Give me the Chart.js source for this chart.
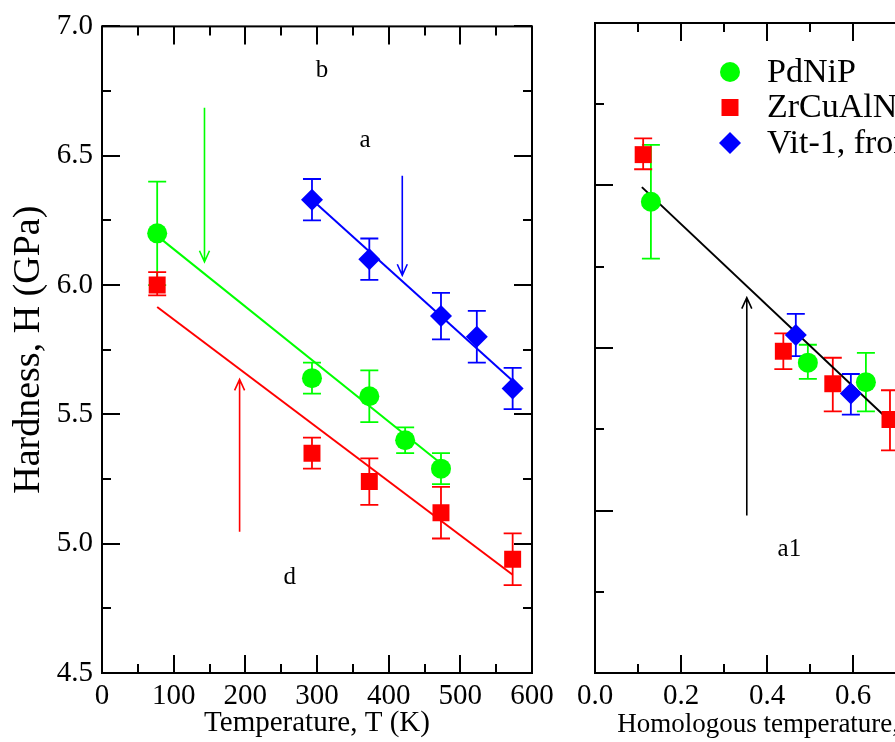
<!DOCTYPE html>
<html>
<head>
<meta charset="utf-8">
<title>Hardness vs temperature</title>
<script src="https://cdn.jsdelivr.net/npm/chart.js@4.4.0/dist/chart.umd.min.js"></script>
<style>
  html, body { margin: 0; padding: 0; background: #fff; overflow: hidden; }
  #wrap { position: relative; width: 895px; height: 742px; overflow: hidden; background: #fff; }
  #left { position: absolute; left: 0; top: 0; }
  #right { position: absolute; left: 560px; top: 0; }
</style>
</head>
<body>
<div id="wrap">
  <canvas id="left" width="560" height="742"></canvas>
  <canvas id="right" width="560" height="742"></canvas>
</div>
<script>
// ---- left panel : hardness vs temperature (K) ----
const pdnipT  = [77, 293, 373, 423, 473];
const pdnipH  = [6.20, 5.64, 5.57, 5.40, 5.29];
const pdnipLo = [6.00, 5.58, 5.47, 5.35, 5.23];
const pdnipHi = [6.40, 5.70, 5.67, 5.45, 5.35];

const zrT  = [77, 293, 373, 473, 573];
const zrH  = [6.00, 5.35, 5.24, 5.12, 4.94];
const zrLo = [5.96, 5.29, 5.15, 5.02, 4.84];
const zrHi = [6.05, 5.41, 5.33, 5.22, 5.04];

const vitT  = [293, 373, 473, 523, 573];
const vitH  = [6.33, 6.10, 5.88, 5.80, 5.60];
const vitLo = [6.25, 6.02, 5.79, 5.70, 5.52];
const vitHi = [6.41, 6.18, 5.97, 5.90, 5.68];

// linear fits
const pdnipFitT = [77, 473];
const pdnipFitH = [6.19, 5.31];
const zrFitT = [77, 573];
const zrFitH = [5.915, 4.88];
const vitFitT = [293, 571];
const vitFitH = [6.33, 5.635];

// arrows (x, start y, tip y) and letters
const leftArrowX    = [143, 419, 192];
const leftArrowFrom = [6.685, 6.423, 5.046];
const leftArrowTo   = [6.09, 6.038, 5.635];
const leftNoteText = ['b', 'a', 'd'];
const leftNoteX    = [307, 367, 262];
const leftNoteY    = [6.83, 6.56, 4.87];

const leftXTicks = ['0', '100', '200', '300', '400', '500', '600'];
const leftYTicks = ['4.5', '5.0', '5.5', '6.0', '6.5', '7.0'];

// ---- right panel : vs homologous temperature ----
const homPdnipX  = [0.130, 0.495, 0.630];
const homPdnipY  = [1.090, 0.991, 0.979];
const homPdnipLo = [1.055, 0.981, 0.961];
const homPdnipHi = [1.125, 1.002, 0.997];

const homZrX  = [0.112, 0.438, 0.553, 0.686];
const homZrY  = [1.119, 0.998, 0.978, 0.956];
const homZrLo = [1.110, 0.987, 0.961, 0.937];
const homZrHi = [1.129, 1.009, 0.994, 0.974];

const homVitX  = [0.467, 0.595];
const homVitY  = [1.008, 0.972];
const homVitLo = [0.995, 0.959];
const homVitHi = [1.021, 0.984];

const homFitX = [0.109, 0.72];
const homFitY = [1.099, 0.9465];

const rightArrowX    = [0.353];
const rightArrowFrom = [0.897];
const rightArrowTo   = [1.031];
const rightNoteText = ['a1'];
const rightNoteX    = [0.452];
const rightNoteY    = [0.876];

const rightXTicks = ['0.0', '0.2', '0.4', '0.6', '0.8'];
const legendLabels = ['PdNiP', 'ZrCuAlNi', 'Vit-1, from Ref.'];

const GREEN = '#00ff00', RED = '#ff0000', BLUE = '#0000ff';
const SERIF = "'Liberation Serif', 'DejaVu Serif', serif";

function pts(xs, ys) {
  return xs.map((x, i) => ({ x: x, y: ys[i] }));
}

function markerSet(label, xs, ys, lo, hi, color, style, r) {
  return {
    label: label,
    data: pts(xs, ys),
    errLo: lo, errHi: hi,
    showLine: false,
    pointStyle: style,
    pointRadius: r,
    pointBackgroundColor: color,
    pointBorderColor: color,
    pointBorderWidth: 0,
    borderColor: color,
    backgroundColor: color
  };
}

function lineSet(xs, ys, color) {
  return {
    data: pts(xs, ys),
    showLine: true,
    pointRadius: 0,
    borderColor: color,
    borderWidth: 2,
    fill: false
  };
}

// error bars, drawn under the markers
const errorBars = {
  id: 'errorBars',
  beforeDatasetsDraw(chart) {
    const { ctx, scales: { x, y } } = chart;
    ctx.save();
    ctx.lineWidth = 1.8;
    chart.data.datasets.forEach(ds => {
      if (!ds.errLo) return;
      ctx.strokeStyle = ds.borderColor;
      ds.data.forEach((p, i) => {
        const px = x.getPixelForValue(p.x);
        const top = y.getPixelForValue(ds.errHi[i]);
        const bot = y.getPixelForValue(ds.errLo[i]);
        ctx.beginPath();
        ctx.moveTo(px, top); ctx.lineTo(px, bot);
        ctx.moveTo(px - 9, top); ctx.lineTo(px + 9, top);
        ctx.moveTo(px - 9, bot); ctx.lineTo(px + 9, bot);
        ctx.stroke();
      });
    });
    ctx.restore();
  }
};

// box with inward ticks on all four sides
const frame = {
  id: 'frame',
  afterDraw(chart, args, opts) {
    const { ctx, chartArea: a, scales: { x, y } } = chart;
    ctx.save();
    ctx.strokeStyle = '#000';
    ctx.lineWidth = 2;
    ctx.beginPath();
    const nx = Math.round((x.max - x.min) / opts.xMinor);
    for (let i = 0; i <= nx; i++) {
      const px = Math.round(x.getPixelForValue(x.min + i * opts.xMinor));
      const len = i % opts.xEvery === 0 ? 18 : 9;
      ctx.moveTo(px, a.bottom); ctx.lineTo(px, a.bottom - len);
      ctx.moveTo(px, a.top); ctx.lineTo(px, a.top + len);
    }
    const ny = Math.round((y.max - y.min) / opts.yMinor);
    for (let i = 0; i <= ny; i++) {
      const py = Math.round(y.getPixelForValue(y.min + i * opts.yMinor));
      const len = i % opts.yEvery === 0 ? 18 : 9;
      ctx.moveTo(a.left, py); ctx.lineTo(a.left + len, py);
      ctx.moveTo(a.right, py); ctx.lineTo(a.right - len, py);
    }
    ctx.stroke();
    ctx.strokeRect(a.left, a.top, a.right - a.left, a.bottom - a.top);
    ctx.restore();
  }
};

// arrows and letter notes
const notes = {
  id: 'notes',
  afterDatasetsDraw(chart, args, opts) {
    const { ctx, scales: { x, y } } = chart;
    ctx.save();
    ctx.lineWidth = 1.6;
    opts.arrowX.forEach((ax, i) => {
      const px = x.getPixelForValue(ax);
      const p0 = y.getPixelForValue(opts.arrowFrom[i]);
      const p1 = y.getPixelForValue(opts.arrowTo[i]);
      const dir = p1 > p0 ? 1 : -1;
      ctx.strokeStyle = opts.arrowColor[i];
      ctx.beginPath();
      ctx.moveTo(px, p0); ctx.lineTo(px, p1);
      ctx.moveTo(px - 5, p1 - dir * 11); ctx.lineTo(px, p1); ctx.lineTo(px + 5, p1 - dir * 11);
      ctx.stroke();
    });
    ctx.fillStyle = '#000';
    ctx.font = '25px ' + SERIF;
    ctx.textAlign = 'center';
    ctx.textBaseline = 'middle';
    opts.text.forEach((t, i) => {
      ctx.fillText(t, x.getPixelForValue(opts.textX[i]), y.getPixelForValue(opts.textY[i]));
    });
    ctx.restore();
  }
};

// legend inside the right panel
const boxLegend = {
  id: 'boxLegend',
  afterDraw(chart, args, opts) {
    if (!opts.show) return;
    const { ctx, chartArea: a } = chart;
    ctx.save();
    ctx.font = '34px ' + SERIF;
    ctx.textBaseline = 'middle';
    ctx.textAlign = 'left';
    const sets = chart.data.datasets.filter(d => d.errLo);
    sets.forEach((ds, i) => {
      const mx = a.left + 135;
      const my = a.top + 49 + i * 35.5;
      ctx.fillStyle = ds.backgroundColor;
      ctx.beginPath();
      if (ds.pointStyle === 'circle') {
        ctx.arc(mx, my, 10, 0, Math.PI * 2);
      } else if (ds.pointStyle === 'rect') {
        ctx.rect(mx - 8.5, my - 8.5, 17, 17);
      } else {
        ctx.moveTo(mx, my - 11); ctx.lineTo(mx + 11, my); ctx.lineTo(mx, my + 11); ctx.lineTo(mx - 11, my);
        ctx.closePath();
      }
      ctx.fill();
      ctx.fillStyle = '#000';
      ctx.fillText(ds.label, a.left + 172, my + 1);
    });
    ctx.restore();
  }
};

function axisFont(size) {
  return { family: SERIF, size: size, weight: 'normal' };
}

// left chart
new Chart(document.getElementById('left'), {
  type: 'scatter',
  data: {
    datasets: [
      markerSet('PdNiP', pdnipT, pdnipH, pdnipLo, pdnipHi, GREEN, 'circle', 10),
      markerSet('ZrCuAlNi', zrT, zrH, zrLo, zrHi, RED, 'rect', 12),
      markerSet('Vit-1', vitT, vitH, vitLo, vitHi, BLUE, 'rectRot', 11),
      lineSet(pdnipFitT, pdnipFitH, GREEN),
      lineSet(zrFitT, zrFitH, RED),
      lineSet(vitFitT, vitFitH, BLUE)
    ]
  },
  options: {
    responsive: false,
    animation: false,
    layout: { padding: { top: 23, right: 28, left: 0, bottom: 0 } },
    plugins: {
      legend: { display: false },
      tooltip: { enabled: false },
      frame: { xMinor: 50, xEvery: 2, yMinor: 0.25, yEvery: 2 },
      notes: {
        arrowX: leftArrowX, arrowFrom: leftArrowFrom, arrowTo: leftArrowTo,
        arrowColor: [GREEN, BLUE, RED],
        text: leftNoteText, textX: leftNoteX, textY: leftNoteY
      },
      boxLegend: { show: false }
    },
    scales: {
      x: {
        type: 'linear', min: 0, max: 600,
        grid: { display: false, drawTicks: false },
        border: { display: false },
        ticks: {
          stepSize: 100, autoSkip: false, maxRotation: 0, padding: 6,
          color: '#000', font: axisFont(29),
          callback: (v, i) => leftXTicks[i]
        },
        title: {
          display: true, text: 'Temperature, T (K)', color: '#000',
          font: axisFont(29), padding: { top: 0, bottom: 1 }
        },
        afterFit: s => { s.height = 69; }
      },
      y: {
        type: 'linear', min: 4.5, max: 7.0,
        grid: { display: false, drawTicks: false },
        border: { display: false },
        ticks: {
          stepSize: 0.5, autoSkip: false, padding: 9,
          color: '#000', font: axisFont(29),
          callback: (v, i) => leftYTicks[i]
        },
        title: {
          display: true, text: 'Hardness, H (GPa)', color: '#000',
          font: axisFont(38), padding: { top: 6, bottom: 0 }
        },
        afterFit: s => { s.width = 102; }
      }
    }
  },
  plugins: [errorBars, frame, notes, boxLegend]
});

// right chart
new Chart(document.getElementById('right'), {
  type: 'scatter',
  data: {
    datasets: [
      markerSet(legendLabels[0], homPdnipX, homPdnipY, homPdnipLo, homPdnipHi, GREEN, 'circle', 10),
      markerSet(legendLabels[1], homZrX, homZrY, homZrLo, homZrHi, RED, 'rect', 12),
      markerSet(legendLabels[2], homVitX, homVitY, homVitLo, homVitHi, BLUE, 'rectRot', 11),
      lineSet(homFitX, homFitY, '#000')
    ]
  },
  options: {
    responsive: false,
    animation: false,
    layout: { padding: { top: 23, right: 138, left: 0, bottom: 0 } },
    plugins: {
      legend: { display: false },
      tooltip: { enabled: false },
      frame: { xMinor: 0.1, xEvery: 2, yMinor: 0.05, yEvery: 2 },
      notes: {
        arrowX: rightArrowX, arrowFrom: rightArrowFrom, arrowTo: rightArrowTo,
        arrowColor: ['#000'],
        text: rightNoteText, textX: rightNoteX, textY: rightNoteY
      },
      boxLegend: { show: true }
    },
    scales: {
      x: {
        type: 'linear', min: 0, max: 0.9,
        grid: { display: false, drawTicks: false },
        border: { display: false },
        ticks: {
          stepSize: 0.2, autoSkip: false, maxRotation: 0, padding: 6,
          color: '#000', font: axisFont(29),
          callback: (v, i) => rightXTicks[i]
        },
        title: {
          display: true, text: 'Homologous temperature, T/Tg', color: '#000',
          font: axisFont(27), padding: { top: 0, bottom: 1 }
        },
        afterFit: s => { s.height = 69; }
      },
      y: {
        type: 'linear', min: 0.8, max: 1.2,
        grid: { display: false, drawTicks: false },
        border: { display: false },
        ticks: { display: false, stepSize: 0.1 },
        afterFit: s => { s.width = 35; }
      }
    }
  },
  plugins: [errorBars, frame, notes, boxLegend]
});
</script>
</body>
</html>
